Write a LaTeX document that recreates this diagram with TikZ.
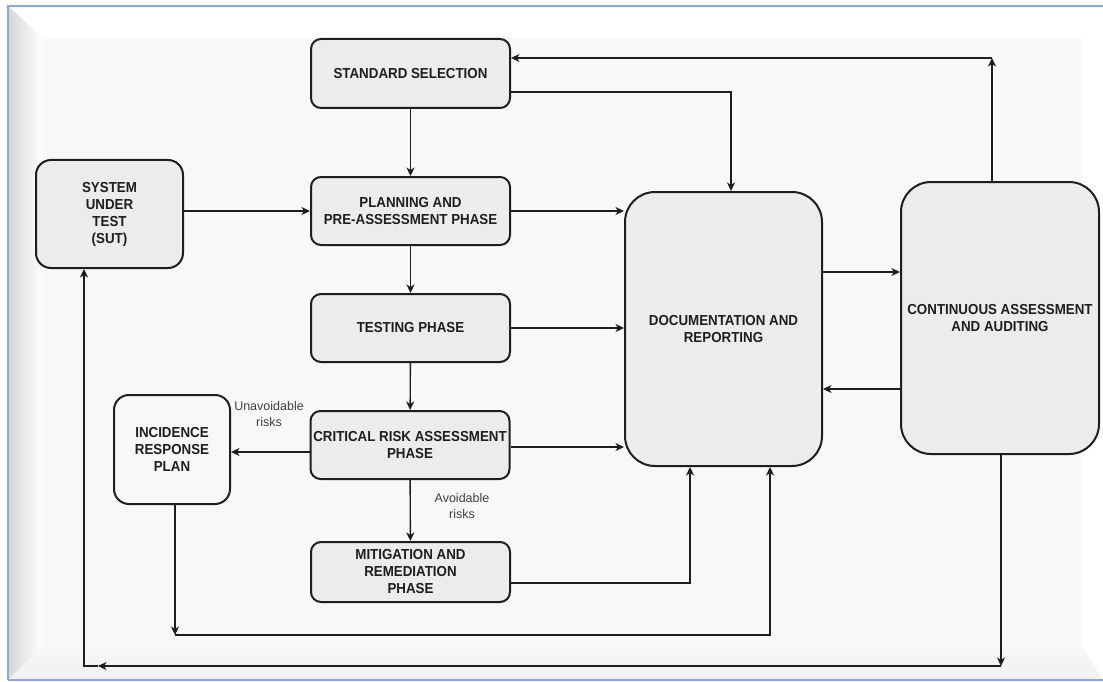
\documentclass[tikz,border=0pt]{standalone}
\usepackage{fontspec}
\setmainfont{Liberation Sans}
\newfontfamily\boxfont{Liberation Sans}[FakeStretch=0.92]
\usetikzlibrary{arrows.meta}
\definecolor{framebl}{HTML}{8AA9D6}
\definecolor{panel}{HTML}{F8F8F8}
\definecolor{boxgray}{HTML}{ECECEC}
\definecolor{inkc}{HTML}{1E1E1E}
\begin{document}
\begin{tikzpicture}[x=1pt,y=-1pt,
  box/.style={draw=inkc, line width=2pt, fill=boxgray, rounded corners=#1,
    align=center, text=inkc, inner sep=0pt,
    font=\boxfont\bfseries\fontsize{14.5}{17}\selectfont},
  conn/.style={draw=inkc, line width=1.4pt},
  arr/.style={conn, -{Stealth[length=8.5pt,width=8pt,inset=2.5pt]}},
  lbl/.style={align=center, text=inkc!85, inner sep=0pt,
    font=\fontsize{12.5}{16}\selectfont}
]
% frame
\useasboundingbox (0,0) rectangle (1103,682);
\fill[white] (0,0) rectangle (1103,682);
\shade[left color=gray!32, right color=white] (8,6) -- (43,38) -- (43,645) -- (8,680) -- cycle;
\shade[top color=panel, bottom color=gray!12] (8,680) -- (43,645) -- (1082,645) -- (1103,680) -- cycle;
\fill[panel] (43,38) rectangle (1082,645);
\fill[white] (1082,38) -- (1103,6) -- (1103,680) -- (1082,645) -- cycle;
\draw[framebl, line width=1.5pt] (8,680) -- (8,6) -- (1103,6);
\draw[framebl, line width=1.5pt] (8,680) -- (1103,680);

% boxes
\node[box=10pt, minimum width=199pt, minimum height=69pt] (std) at (410.5,73.5) {STANDARD SELECTION};
\node[box=10pt, minimum width=199pt, minimum height=68pt] (plan) at (410.5,211) {PLANNING AND\\PRE-ASSESSMENT PHASE};
\node[box=10pt, minimum width=199pt, minimum height=68pt] (test) at (410.5,328) {TESTING PHASE};
\node[box=10pt, minimum width=199pt, minimum height=68pt] (crit) at (410,445) {CRITICAL RISK ASSESSMENT\\PHASE};
\node[box=10pt, minimum width=199pt, minimum height=60pt] (mit) at (410.5,572) {MITIGATION AND\\REMEDIATION\\PHASE};
\node[box=15pt, fill=panel, minimum width=116pt, minimum height=109pt] (inc) at (172,449.5) {INCIDENCE\\RESPONSE\\PLAN};
\node[box=15pt, minimum width=147pt, minimum height=108pt] (sut) at (109.5,214) {SYSTEM\\UNDER\\TEST\\(SUT)};
\node[box=30pt, minimum width=197pt, minimum height=274pt] (doc) at (723.5,329) {DOCUMENTATION AND\\REPORTING};
\node[box=30pt, minimum width=198pt, minimum height=272pt] (cont) at (1000,318) {CONTINUOUS ASSESSMENT\\AND AUDITING};

% helper coordinates
\coordinate (k1) at (731,92);
\coordinate (k2) at (992,58);
\coordinate (k3) at (690,583);
\coordinate (k4) at (175,635);
\coordinate (k5) at (770,635);
\coordinate (k6) at (1001,666);
\coordinate (k7) at (98,666);
\coordinate (k8) at (84,666);
\coordinate (yA) at (0,272);
\coordinate (yB) at (0,389);
\coordinate (yC) at (0,452);
\coordinate (yD) at (0,447);

% vertical chain
\draw[arr] (std) -- (plan);
\draw[arr] (plan) -- (test);
\draw[arr] (test) -- (crit);
\draw[arr] (crit) -- (mit);

% to documentation
\draw[arr] (sut.east |- plan) -- (plan.west);
\draw[arr] (plan.east) -- (doc.west |- plan);
\draw[arr] (test.east) -- (doc.west |- test);
\draw[arr] (crit.east |- yD) -- (doc.west |- yD);
\draw[arr] (crit.west |- yC) -- (inc.east |- yC);
\draw[arr] (std.east |- k1) -- (k1) -- (k1 |- doc.north);
\draw[arr] (doc.east |- yA) -- (cont.west |- yA);
\draw[arr] (cont.west |- yB) -- (doc.east |- yB);
\draw[arr] (cont.north -| k2) -- (k2);
\draw[arr] (k2) -- (std.east |- k2);
\draw[arr] (mit.east |- k3) -- (k3) -- (k3 |- doc.south);
\draw[arr] (inc.south -| k4) -- (k4);
\draw[arr] (k4) -- (k5) -- (k5 |- doc.south);
\draw[arr] (cont.south -| k6) -- (k6);
\draw[arr] (k6) -- (k7);
\draw[arr] (k7) -- (k8) -- (k8 |- sut.south);

% labels
\node[lbl] (lu) at (269,414) {Unavoidable\\risks};
\node[lbl] (la) at (462,506) {Avoidable\\risks};
\end{tikzpicture}
\end{document}
